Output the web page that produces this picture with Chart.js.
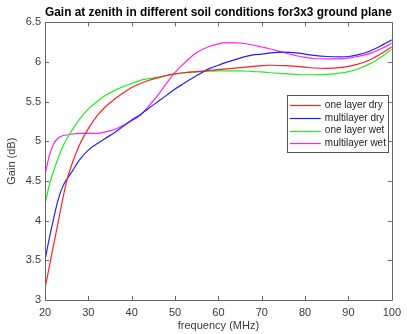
<!DOCTYPE html>
<html>
<head>
<meta charset="utf-8">
<script src="https://cdn.jsdelivr.net/npm/chart.js@4/dist/chart.umd.min.js"></script>
<style>
  html, body { margin: 0; padding: 0; background: #ffffff; }
  #wrap { width: 407px; height: 334px; position: relative; }
</style>
</head>
<body>
<div id="wrap"><canvas id="c" width="407" height="334"></canvas></div>
<script>
const titleText = 'Gain at zenith in different soil conditions for3x3 ground plane';
const xTitle = 'frequency (MHz)';
const yTitle = 'Gain (dB)';
const seriesNames = ['one layer dry', 'multilayer dry', 'one layer wet', 'multilayer wet'];
const seriesColors = ['#ff2020', '#2020ff', '#20ee20', '#ff20ff'];

const xTicks = [20, 30, 40, 50, 60, 70, 80, 90, 100];
const yTicks = [3, 3.5, 4, 4.5, 5, 5.5, 6, 6.5];

const freq = [20, 21, 22, 23, 24, 25, 26, 28, 30, 32, 34, 36, 38, 40, 42, 44, 46, 48, 50,
              52, 55, 58, 60, 62, 65, 68, 70, 72, 75, 78, 80, 82, 85, 88, 90, 92, 95, 98, 100];

const oneLayerDry = [3.15, 3.42, 3.70, 3.97, 4.25, 4.50, 4.68, 4.96, 5.16, 5.32, 5.44, 5.53, 5.61, 5.68, 5.73, 5.77, 5.80, 5.83, 5.85,
                     5.865, 5.88, 5.895, 5.905, 5.915, 5.93, 5.945, 5.955, 5.96, 5.955, 5.945, 5.935, 5.925, 5.92, 5.93, 5.945, 5.97, 6.03, 6.12, 6.19];
const multilayerDry = [3.50, 3.78, 4.03, 4.26, 4.42, 4.52, 4.60, 4.77, 4.89, 4.97, 5.04, 5.11, 5.19, 5.27, 5.34, 5.42, 5.50, 5.58, 5.66,
                       5.73, 5.83, 5.92, 5.96, 6.00, 6.05, 6.09, 6.10, 6.115, 6.125, 6.115, 6.10, 6.085, 6.07, 6.065, 6.07, 6.09, 6.14, 6.22, 6.28];
const oneLayerWet = [4.21, 4.45, 4.63, 4.78, 4.92, 5.03, 5.12, 5.28, 5.41, 5.50, 5.58, 5.64, 5.69, 5.73, 5.77, 5.79, 5.81, 5.83, 5.85,
                     5.865, 5.875, 5.885, 5.89, 5.89, 5.89, 5.88, 5.875, 5.865, 5.855, 5.845, 5.84, 5.84, 5.845, 5.86, 5.88, 5.91, 5.98, 6.08, 6.16];
const multilayerWet = [4.58, 4.82, 4.97, 5.04, 5.07, 5.08, 5.09, 5.10, 5.10, 5.10, 5.12, 5.15, 5.20, 5.26, 5.33, 5.45, 5.58, 5.73, 5.87,
                       5.98, 6.12, 6.20, 6.23, 6.245, 6.24, 6.215, 6.19, 6.165, 6.12, 6.08, 6.06, 6.045, 6.04, 6.04, 6.05, 6.07, 6.11, 6.18, 6.24];

const seriesValues = [oneLayerDry, multilayerDry, oneLayerWet, multilayerWet];

const FONT = '"Liberation Sans", Arial, sans-serif';
const AXIS_COLOR = '#666666';
const TEXT_COLOR = '#3a3a3a';

const datasets = seriesNames.map((name, i) => ({
  label: name,
  data: freq.map((f, j) => ({ x: f, y: seriesValues[i][j] })),
  borderColor: seriesColors[i],
  backgroundColor: seriesColors[i],
  borderWidth: 1.2,
  pointRadius: 0,
  fill: false,
  cubicInterpolationMode: 'monotone'
}));

const boxPlugin = {
  id: 'matlabBox',
  afterDatasetsDraw(chart) {
    const ctx = chart.ctx;
    const a = chart.chartArea;
    const xs = chart.scales.x, ys = chart.scales.y;
    ctx.save();
    ctx.strokeStyle = AXIS_COLOR;
    ctx.lineWidth = 1;
    ctx.beginPath();
    ctx.rect(Math.round(a.left) + 0.5, Math.round(a.top) + 0.5,
             Math.round(a.right - a.left), Math.round(a.bottom - a.top));
    ctx.stroke();
    const tl = 4;
    ctx.beginPath();
    xTicks.forEach(v => {
      const px = Math.round(xs.getPixelForValue(v)) + 0.5;
      ctx.moveTo(px, a.bottom); ctx.lineTo(px, a.bottom - tl);
      ctx.moveTo(px, a.top); ctx.lineTo(px, a.top + tl);
    });
    yTicks.forEach(v => {
      const py = Math.round(ys.getPixelForValue(v)) + 0.5;
      ctx.moveTo(a.left, py); ctx.lineTo(a.left + tl, py);
      ctx.moveTo(a.right, py); ctx.lineTo(a.right - tl, py);
    });
    ctx.stroke();

    // legend inside the axes
    const boxRight = a.right - 4;
    const boxW = 101;
    const boxLeft = boxRight - boxW;
    const boxTop = a.top + 73;
    const rowH = 12.6;
    const boxH = 57;
    ctx.fillStyle = '#ffffff';
    ctx.fillRect(boxLeft, boxTop, boxW, boxH);
    ctx.strokeStyle = '#555555';
    ctx.strokeRect(Math.round(boxLeft) + 0.5, Math.round(boxTop) + 0.5, boxW, boxH);
    ctx.font = '10px ' + FONT;
    ctx.textBaseline = 'middle';
    ctx.textAlign = 'left';
    seriesNames.forEach((name, i) => {
      const y = boxTop + 10 + i * rowH;
      ctx.strokeStyle = seriesColors[i];
      ctx.lineWidth = 1.2;
      ctx.beginPath();
      ctx.moveTo(boxLeft + 3, Math.round(y) + 0.5);
      ctx.lineTo(boxLeft + 34, Math.round(y) + 0.5);
      ctx.stroke();
      ctx.fillStyle = '#222222';
      ctx.fillText(name, boxLeft + 38, y);
    });
    ctx.restore();
  }
};

new Chart(document.getElementById('c'), {
  type: 'line',
  data: { datasets },
  plugins: [boxPlugin],
  options: {
    responsive: false,
    animation: false,
    events: [],
    layout: { padding: { top: 0, right: 10, bottom: 0, left: 0 } },
    plugins: {
      legend: { display: false },
      tooltip: { enabled: false },
      title: {
        display: true,
        text: titleText,
        fullSize: false,
        color: '#000000',
        font: { family: FONT, size: 12, weight: 'bold' },
        padding: { top: 5, bottom: 3 }
      }
    },
    scales: {
      x: {
        type: 'linear',
        min: 20, max: 100,
        afterFit(scale) { scale.height = 34; },
        afterBuildTicks(scale) { scale.ticks = xTicks.map(v => ({ value: v })); },
        grid: { display: true, drawOnChartArea: false, drawTicks: false },
        border: { display: false },
        ticks: {
          color: TEXT_COLOR, padding: 6, maxRotation: 0, autoSkip: false,
          font: { family: FONT, size: 11 },
          callback: v => String(v)
        },
        title: {
          display: true, text: xTitle, color: TEXT_COLOR,
          font: { family: FONT, size: 11 },
          padding: { top: 0, bottom: 1 }
        }
      },
      y: {
        type: 'linear',
        min: 3, max: 6.5,
        afterFit(scale) { scale.width = 45; },
        afterBuildTicks(scale) { scale.ticks = yTicks.map(v => ({ value: v })); },
        grid: { display: true, drawOnChartArea: false, drawTicks: false },
        border: { display: false },
        ticks: {
          color: TEXT_COLOR, padding: 4, autoSkip: false,
          font: { family: FONT, size: 11 },
          callback: v => String(v)
        },
        title: {
          display: true, text: yTitle, color: TEXT_COLOR,
          font: { family: FONT, size: 11 },
          padding: { top: 5, bottom: 0 }
        }
      }
    }
  }
});
</script>
</body>
</html>
